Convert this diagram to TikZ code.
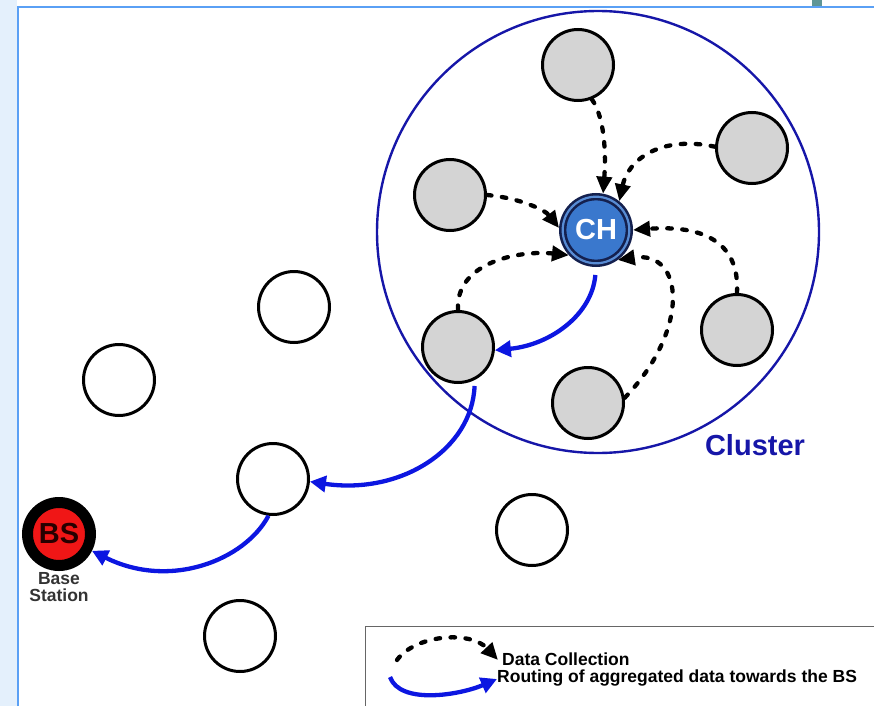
\documentclass[tikz,border=0pt]{standalone}
\usepackage{fontspec}
\setmainfont{Liberation Sans}
\usepackage{xcolor}
\usetikzlibrary{arrows.meta,positioning}
\definecolor{clusterblue}{RGB}{22,22,168}
\definecolor{routeblue}{RGB}{12,22,225}
\definecolor{chfill}{RGB}{58,120,205}
\definecolor{chring}{RGB}{20,32,78}
\definecolor{membergray}{RGB}{212,212,212}
\definecolor{bsred}{RGB}{240,22,22}
\definecolor{frameblue}{RGB}{90,160,245}
\definecolor{paleblue}{RGB}{228,240,252}
\definecolor{tabteal}{RGB}{95,150,150}

\begin{document}
\begin{tikzpicture}[x=1pt,y=-1pt,
                member/.style={circle,draw,line width=3pt,minimum size=71pt,inner sep=0pt,fill=membergray},
                idle/.style={member,fill=white},
                chnode/.style={circle,draw=chring,line width=2.6pt,double=chfill!85!white,double distance=2.2pt,
                  fill=chfill,minimum size=66.6pt,inner sep=0pt,outer sep=3.7pt,text=white,
                  font=\fontsize{29}{30}\selectfont\bfseries},
                bsnode/.style={circle,draw=black,line width=11pt,fill=bsred,minimum size=63pt,inner sep=0pt,
                  text=black!85!red,font=\fontsize{29}{30}\selectfont\bfseries},
                collect/.style={-{Triangle[length=17pt,width=15pt]},line width=4.3pt,line cap=round,
                  dash pattern=on 4.5pt off 10.5pt},
                route/.style={-{Triangle[length=16pt,width=16pt]},routeblue,line width=4.3pt},
                legtext/.style={inner sep=0pt,font=\fontsize{17.5}{18}\selectfont\bfseries}
                ]
                \useasboundingbox (0,0) rectangle (874,706);
                % page frame
                \fill[paleblue] (0,0) rectangle (17,706);
                \fill[tabteal] (812,0) rectangle (822,6);
                \draw[frameblue,line width=2pt] (18,706) -- (18,7) -- (874,7);

                \node[circle,draw=clusterblue,line width=2.4pt,minimum size=442pt] (cluster) at (598,232) {};
                \node[text=clusterblue,font=\fontsize{29}{30}\selectfont\bfseries] (clusterlabel) at (755,445) {Cluster};

                \node[chnode] (ch) at (596,230) {CH};
                \node[member] (n1) at (578,65) {};
                \node[member] (n2) at (752,148) {};
                \node[member] (n3) at (450,195) {};
                \node[member] (n4) at (458,347) {};
                \node[member] (n5) at (737,330) {};
                \node[member] (n6) at (588,403) {};

                \node[idle] (w1) at (294,307) {};
                \node[idle] (w2) at (119,380) {};
                \node[idle] (w3) at (273,479) {};
                \node[idle] (w4) at (532,530) {};
                \node[idle] (w5) at (240,636) {};

                \node[bsnode] (bs) at (59,534) {BS};
                \node[below=1pt of bs,align=center,text=black!80,inner sep=0pt,
                  font=\fontsize{17.5}{17.5}\selectfont\bfseries] (bslabel) {Base\\Station};

                % data collection towards the cluster head
                \draw[collect] (n1.-68) .. controls (605,118) and (606,155) .. (ch.79);
                \draw[collect] (n2.178) .. controls (660,135) and (628,160) .. (ch.51);
                \draw[collect] (n3.0) .. controls (520,198) and (545,210) .. (ch.177);
                \draw[collect] (n4.90) .. controls (455,262) and (520,250) .. (ch.223);
                \draw[collect] (n5.90) .. controls (740,240) and (700,225) .. (ch.0);
                \draw[collect] (n6.8) .. controls (690,330) and (685,250) .. (ch.-54);

                % routing to the BS
                \draw[route,shorten <=8pt] (ch.-90) .. controls (592,315) and (550,345) .. (n4.-5);
                \draw[route,shorten <=6pt] (n4.-63) .. controls (472,450) and (400,495) .. (w3.-4);
                \draw[route] (w3.-97) .. controls (245,560) and (170,590) .. (bs.-27);

                % legend
                \draw[black!60,line width=1pt] (874,626) -- (365,626) -- (365,706);
                \coordinate (dc0) at (397,660);
                \coordinate (dc1) at (498,660);
                \draw[collect] (dc0) .. controls (415,635) and (470,630) .. (dc1);
                \coordinate (rt0) at (390,677);
                \coordinate (rt1) at (497,679);
                \draw[route] (rt0) .. controls (400,705) and (460,695) .. (rt1);
                \node[legtext,anchor=base west] (dclabel) at (502,665) {Data Collection};
                \node[legtext,anchor=base west] (rtlabel) at (497,682) {Routing of aggregated data towards the BS};
\end{tikzpicture}
\end{document}
